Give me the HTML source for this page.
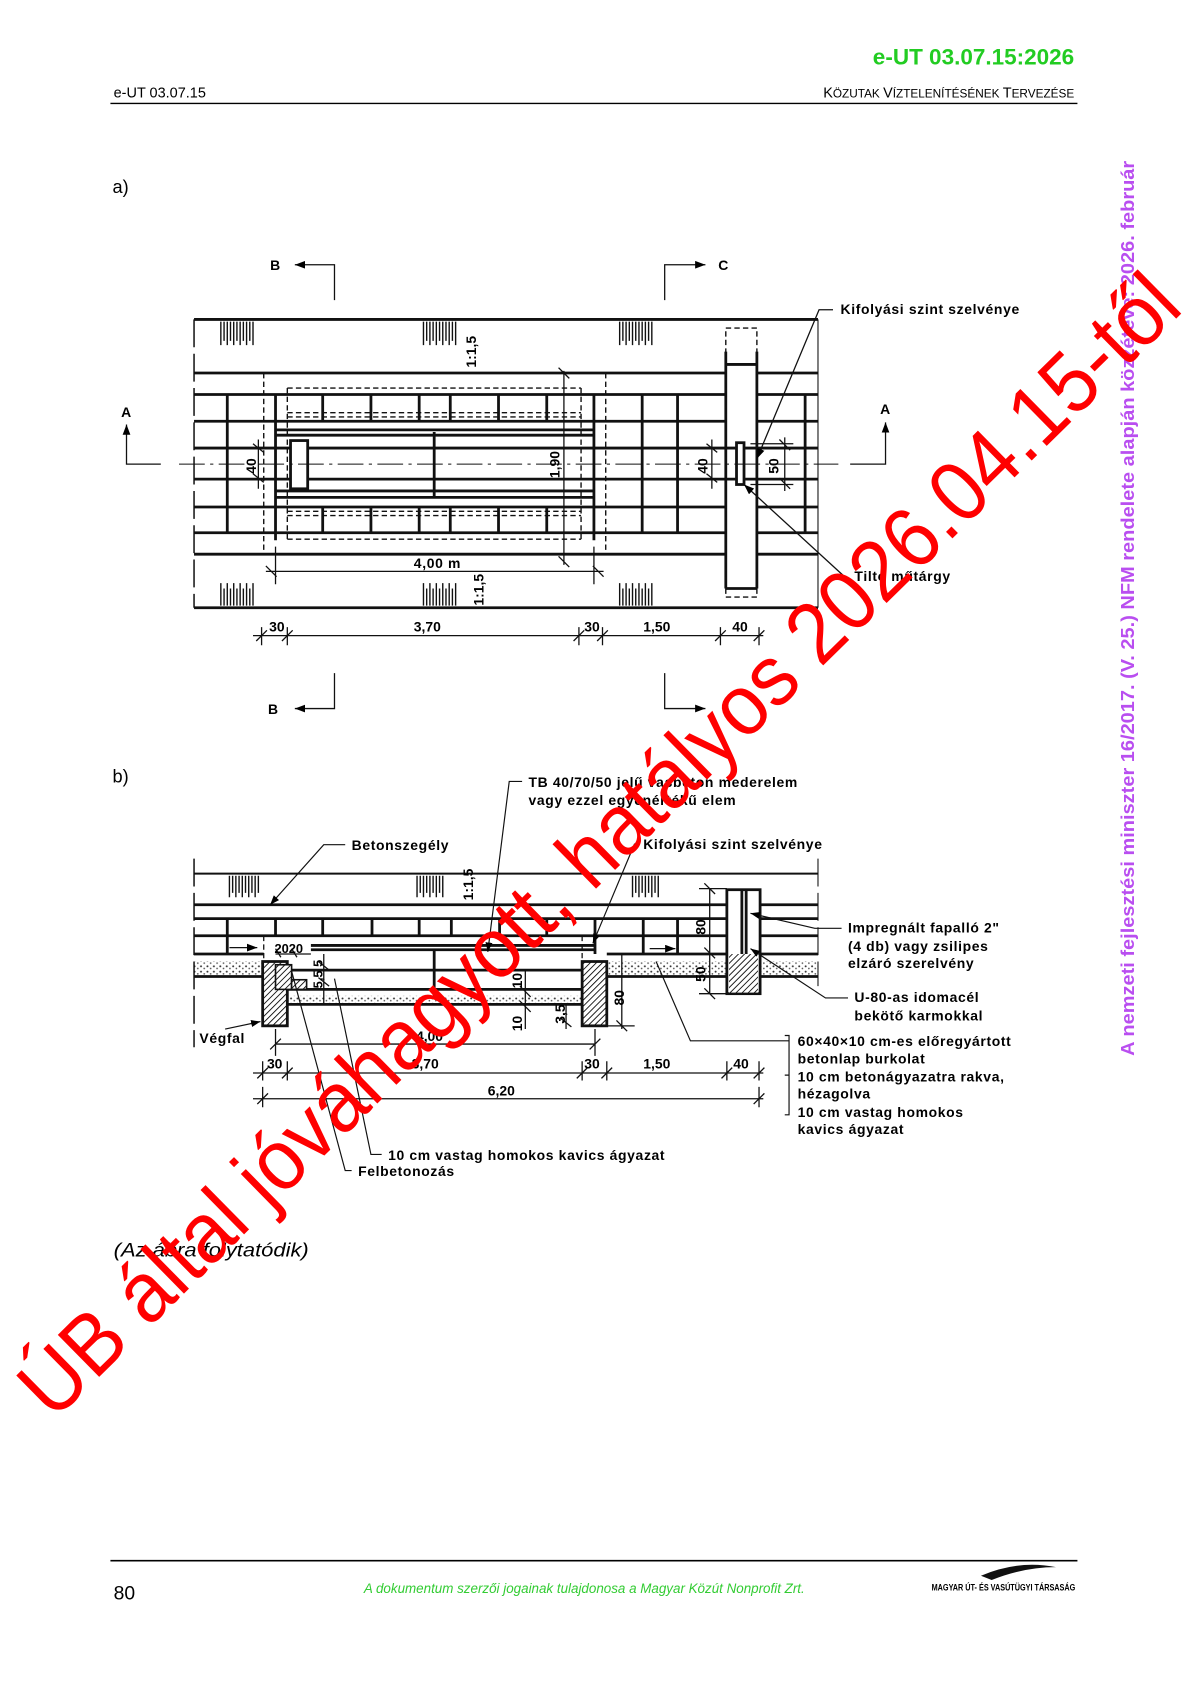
<!DOCTYPE html>
<html><head><meta charset="utf-8"><style>
html,body{margin:0;padding:0;background:#fff}
svg{display:block}
text{font-family:"Liberation Sans",Arial,sans-serif}
</style></head><body>
<svg width="1190" height="1684" viewBox="0 0 1110 1571" preserveAspectRatio="none" xmlns="http://www.w3.org/2000/svg">
<defs>
<pattern id="hatch" width="4" height="4" patternUnits="userSpaceOnUse" patternTransform="rotate(45)"><rect width="4" height="4" fill="#fff"/><line x1="0" y1="0" x2="0" y2="4" stroke="#000" stroke-width="1.6"/></pattern>
<pattern id="grav" width="6" height="5" patternUnits="userSpaceOnUse"><rect width="6" height="5" fill="#fff"/><circle cx="1.5" cy="1.5" r="0.9" fill="#333"/><circle cx="4.5" cy="3.5" r="0.8" fill="#555"/></pattern>
<marker id="ar" markerWidth="8" markerHeight="6" refX="8" refY="3" orient="auto"><path d="M0,0 L8,3 L0,6z" fill="#000"/></marker>
</defs>

<!-- header -->
<text x="1002" y="60" font-size="21" font-weight="bold" fill="#22cc22" text-anchor="end">e-UT 03.07.15:2026</text>
<text x="106" y="91" font-size="13.5">e-UT 03.07.15</text>
<text x="1002" y="91" font-size="13.5" text-anchor="end">K<tspan font-size="11">ÖZUTAK </tspan>V<tspan font-size="11">ÍZTELENÍTÉSÉNEK </tspan>T<tspan font-size="11">ERVEZÉSE</tspan></text>
<line x1="103" y1="96.5" x2="1005" y2="96.5" stroke="#000" stroke-width="1.2"/>
<text x="105" y="180" font-size="17">a)</text>
<text x="105" y="730" font-size="17">b)</text>

<!-- ================= PLAN (a) ================= -->
<g stroke="#111" fill="none">
<g stroke-width="2.6">
<line x1="181" y1="298" x2="763" y2="298"/>
<line x1="181" y1="567" x2="763" y2="567"/>
<path d="M181 348H677M706 348H763M181 368H677M706 368H763M181 393H677M706 393H763M181 473H677M706 473H763M181 497H677M706 497H763M181 517H677M706 517H763"/>
<line x1="181" y1="418" x2="686" y2="418"/><line x1="695" y1="418" x2="763" y2="418"/>
<line x1="181" y1="447" x2="686" y2="447"/><line x1="695" y1="447" x2="763" y2="447"/>
<path d="M212 368V497M599 368V497M632 368V497M751 368V497M257 368V504M554 368V504"/>
<path d="M301 368V393M346 368V393M391 368V393M420 368V393M465 368V393M510 368V393M301 473V497M346 473V497M391 473V497M420 473V497M465 473V497M510 473V497"/>
<path d="M257 401H554M257 406H554M257 458H554M257 464H554M405 403V463"/>
<rect x="271" y="411" width="16" height="45" fill="#fff"/>
<rect x="687" y="413" width="7" height="39" fill="#fff"/>
<path d="M677 328V549M706 328V549M677 340H706M677 549H706"/>
</g>
<path d="M181 298V567" stroke-width="1.4" stroke-dasharray="26,6"/>
<path d="M763 298V567" stroke-width="1" />
<g stroke-width="1.3" stroke-dasharray="5,3">
<path d="M246 348V516M565 348V516M542 362V503M268 362H542M268 503H542M268 362V503M268 385H542M268 389H542M268 477H542M268 481H542"/>
<rect x="677" y="306" width="29" height="251"/>
</g>
<path d="M167 433H782" stroke-width="1" stroke-dasharray="24,5,3,5"/>
<g stroke-width="1.3">
<path d="M206 300V322M209 300V318M212 300V322M215 300V318M218 300V322M221 300V318M224 300V322M227 300V318M230 300V322M233 300V318M236 300V322"/>
<path d="M395 300V322M398 300V318M401 300V322M404 300V318M407 300V322M410 300V318M413 300V322M416 300V318M419 300V322M422 300V318M425 300V322"/>
<path d="M578 300V322M581 300V318M584 300V322M587 300V318M590 300V322M593 300V318M596 300V322M599 300V318M602 300V322M605 300V318M608 300V322"/>
<path d="M206 565V544M209 565V549M212 565V544M215 565V549M218 565V544M221 565V549M224 565V544M227 565V549M230 565V544M233 565V549M236 565V544"/>
<path d="M395 565V544M398 565V549M401 565V544M404 565V549M407 565V544M410 565V549M413 565V544M416 565V549M419 565V544M422 565V549M425 565V544"/>
<path d="M578 565V544M581 565V549M584 565V544M587 565V549M590 565V544M593 565V549M596 565V544M599 565V549M602 565V544M605 565V549M608 565V544"/>
</g>
<g stroke-width="1.2">
<path d="M241 410V456M236 414L246 422M236 442L246 450"/>
<path d="M526 346V527M521 343L531 353M521 519L531 529"/>
<path d="M248 533H563M248 528L258 538M553 528L563 538M257 510V545M554 510V545"/>
<path d="M664 410V456M659 414L669 422M659 442L669 450"/>
<path d="M700 414H740M700 452H740M732 408V458M727 410L737 420M727 446L737 456"/>
<path d="M236 593H712M244 585V602M268 585V602M540 585V602M562 585V602M672 585V602M708 585V602"/>
<path d="M239 598L249 588M263 598L273 588M535 598L545 588M557 598L567 588M667 598L677 588M703 598L713 588"/>
</g>
<g stroke-width="1.2">
<path d="M312 280V247H275" marker-end="url(#ar)"/>
<path d="M620 280V247H658" marker-end="url(#ar)"/>
<path d="M312 628V661H275" marker-end="url(#ar)"/>
<path d="M620 628V661H658" marker-end="url(#ar)"/>
<path d="M150 433H118V396" marker-end="url(#ar)"/>
<path d="M793 433H826V394" marker-end="url(#ar)"/>
<path d="M777 289H764L706 428" marker-end="url(#ar)"/>
<path d="M790 540L694 452" marker-end="url(#ar)"/>
</g>
</g>
<g font-size="13" font-weight="bold" letter-spacing="0.6">
<text x="252" y="252">B</text><text x="670" y="252">C</text>
<text x="250" y="666">B</text>
<text x="113" y="389">A</text><text x="821" y="386">A</text>
<text x="784" y="293">Kifolyási szint szelvénye</text>
<text x="797" y="542">Tiltó műtárgy</text>
<text x="386" y="530">4,00 m</text>
</g>
<g font-size="13" font-weight="bold">
<text x="251" y="589">30</text>
<text x="386" y="589">3,70</text>
<text x="545" y="589">30</text>
<text x="600" y="589">1,50</text>
<text x="683" y="589">40</text>
<text transform="translate(444,343) rotate(-90)">1:1,5</text>
<text transform="translate(451,565) rotate(-90)">1:1,5</text>
<text transform="translate(239,442) rotate(-90)">40</text>
<text transform="translate(522,446) rotate(-90)">1,90</text>
<text transform="translate(660,442) rotate(-90)">40</text>
<text transform="translate(726,442) rotate(-90)">50</text>
</g>

<!-- ================= SECTION (b) ================= -->
<g stroke="#111" fill="none">
<rect x="181" y="897" width="65" height="14" fill="url(#grav)" stroke="none"/>
<rect x="566" y="897" width="112" height="14" fill="url(#grav)" stroke="none"/>
<rect x="709" y="897" width="54" height="14" fill="url(#grav)" stroke="none"/>
<rect x="268" y="929" width="276" height="8" fill="url(#grav)" stroke="none"/>
<g stroke-width="2.6">
<line x1="181" y1="815" x2="763" y2="815" stroke-width="1.8"/>
<path d="M181 844H678M709 844H763M181 857H678M709 857H763M181 873H678M709 873H763M181 890H246M566 890H678M709 890H763M181 911H246M566 911H678M709 911H763"/>
<path d="M290 882H555M290 886H555M257 905H555M257 923H555M268 937H544"/>
<path d="M212 857V890M257 857V873M301 857V873M347 857V873M391 857V873M421 857V873M466 857V873M510 857V873M555 857V890M600 857V890M632 857V890M405 886V929"/>
<rect x="245" y="897" width="23" height="60" fill="url(#hatch)"/>
<rect x="543" y="897" width="23" height="60" fill="url(#hatch)"/>
<rect x="257" y="900" width="15" height="23" fill="url(#hatch)" stroke-width="1.5"/>
<rect x="272" y="914" width="14" height="9" fill="url(#hatch)" stroke-width="1.5"/>
<rect x="678" y="830" width="31" height="97" fill="#fff"/>
<rect x="680" y="890" width="27" height="36" fill="url(#hatch)" stroke="none"/>
<path d="M692 830V890M696 830V890"/>
</g>
<path d="M181 801V977" stroke-width="1.4" stroke-dasharray="26,6"/>
<path d="M763 801V920" stroke-width="1" stroke-dasharray="26,6"/>
<path d="M246 873V897M543 873V929" stroke-width="1.2" stroke-dasharray="5,3"/>
<g stroke-width="1.3">
<path d="M214 817V837M217 817V833M220 817V837M223 817V833M226 817V837M229 817V833M232 817V837M235 817V833M238 817V837M241 817V833"/>
<path d="M389 817V837M392 817V833M395 817V837M398 817V833M401 817V837M404 817V833M407 817V837M410 817V833M413 817V837"/>
<path d="M590 817V837M593 817V833M596 817V837M599 817V833M602 817V837M605 817V833M608 817V837M611 817V833M614 817V837"/>
</g>
<g stroke-width="1.2">
<path d="M214 884H240" marker-end="url(#ar)"/>
<path d="M606 885H630" marker-end="url(#ar)"/>
<path d="M257 974H555M257 960V985M555 960V985M252 979L262 969M550 979L560 969"/>
<path d="M236 1001H712M245 990V1008M268 990V1008M543 990V1008M566 990V1008M678 990V1008M708 990V1008"/>
<path d="M240 1006L250 996M263 1006L273 996M538 1006L548 996M561 1006L571 996M673 1006L683 996M703 1006L713 996"/>
<path d="M236 1025H712M245 1014V1033M708 1014V1033M240 1030L250 1020M703 1030L713 1020"/>
<path d="M662 829V927M657 824L667 834M657 884L667 894M657 922L667 932M652 829H678M652 927H678"/>
<path d="M580 890V960M575 952L585 962M566 957H592"/>
<path d="M490 905V960M485 920L495 930M485 934L495 944"/>
<path d="M528 938V960M523 950L533 958"/>
<path d="M302 890V936M297 897L307 905M297 912L307 920"/>
<path d="M257 890H290M257 885L262 893M272 885L277 893"/>
</g>
<g stroke-width="1.1">
<path d="M322 788H302L252 844" marker-end="url(#ar)"/>
<path d="M487 729H475L455 888" marker-end="url(#ar)"/>
<path d="M592 787L553 880" marker-end="url(#ar)"/>
<path d="M785 866H760L700 852" marker-end="url(#ar)"/>
<path d="M791 931H770L700 885" marker-end="url(#ar)"/>
<path d="M736 971H644L612 897"/>
<path d="M732 966H736V1040H732M732 1003H736"/>
<path d="M210 960L243 953" marker-end="url(#ar)"/>
<path d="M356 1077H346L312 913"/>
<path d="M328 1092H322L272 906"/>
</g>
</g>
<g font-size="13" font-weight="bold" letter-spacing="0.6">
<text x="328" y="793">Betonszegély</text>
<text x="493" y="734">TB 40/70/50 jelű vasbeton mederelem</text>
<text x="493" y="751">vagy ezzel egyenértékű elem</text>
<text x="600" y="792">Kifolyási szint szelvénye</text>
<text x="791" y="870">Impregnált fapalló 2"</text>
<text x="791" y="887">(4 db) vagy zsilipes</text>
<text x="791" y="903">elzáró szerelvény</text>
<text x="797" y="935">U-80-as idomacél</text>
<text x="797" y="952">bekötő karmokkal</text>
<text x="744" y="976">60×40×10 cm-es előregyártott</text>
<text x="744" y="992">betonlap burkolat</text>
<text x="744" y="1009">10 cm betonágyazatra rakva,</text>
<text x="744" y="1025">hézagolva</text>
<text x="744" y="1042">10 cm vastag homokos</text>
<text x="744" y="1058">kavics ágyazat</text>
<text x="186" y="973">Végfal</text>
<text x="362" y="1082">10 cm vastag homokos kavics ágyazat</text>
<text x="334" y="1097">Felbetonozás</text>
</g>
<g font-size="13" font-weight="bold">
<text x="388" y="971">4,00</text>
<text x="249" y="997">30</text>
<text x="384" y="997">3,70</text>
<text x="545" y="997">30</text>
<text x="600" y="997">1,50</text>
<text x="684" y="997">40</text>
<text x="455" y="1022">6,20</text>
<text x="256" y="889" font-size="12">2020</text>
<text transform="translate(441,840) rotate(-90)">1:1,5</text>
<text transform="translate(658,872) rotate(-90)">80</text>
<text transform="translate(658,916) rotate(-90)">50</text>
<text transform="translate(582,938) rotate(-90)">80</text>
<text transform="translate(487,962) rotate(-90)">10</text>
<text transform="translate(487,922) rotate(-90)">10</text>
<text transform="translate(527,955) rotate(-90)">3,5</text>
<text transform="translate(301,922) rotate(-90)" font-size="12">5,5 5</text>
</g>

<text x="106" y="1172" font-size="18" font-style="italic" textLength="182" lengthAdjust="spacingAndGlyphs">(Az ábra folytatódik)</text>

<!-- footer -->
<line x1="103" y1="1456" x2="1005" y2="1456" stroke="#000" stroke-width="1.5"/>
<text x="106" y="1492" font-size="18">80</text>
<text x="545" y="1486" font-size="12.5" font-style="italic" fill="#33cc33" text-anchor="middle">A dokumentum szerzői jogainak tulajdonosa a Magyar Közút Nonprofit Zrt.</text>
<path d="M915 1470 Q950 1455 985 1462 Q955 1462 925 1474z" fill="#111"/>
<text x="1003" y="1484" font-size="9" font-weight="bold" text-anchor="end" textLength="134" lengthAdjust="spacingAndGlyphs">MAGYAR ÚT- ÉS VASÚTÜGYI TÁRSASÁG</text>

<!-- watermarks -->
<text x="1058" y="985" font-size="17" font-weight="bold" fill="#b94ef0" transform="rotate(-90 1058 985)" textLength="835" lengthAdjust="spacingAndGlyphs">A nemzeti fejlesztési miniszter 16/2017. (V. 25.) NFM rendelete alapján közzétéve: 2026. február</text>
<text x="560" y="815" font-size="80" fill="#ff0000" text-anchor="middle" transform="rotate(-44.5 560 790)" textLength="1480" lengthAdjust="spacingAndGlyphs">ÚB által jóváhagyott, hatályos 2026.04.15-től</text>
</svg>
</body></html>
